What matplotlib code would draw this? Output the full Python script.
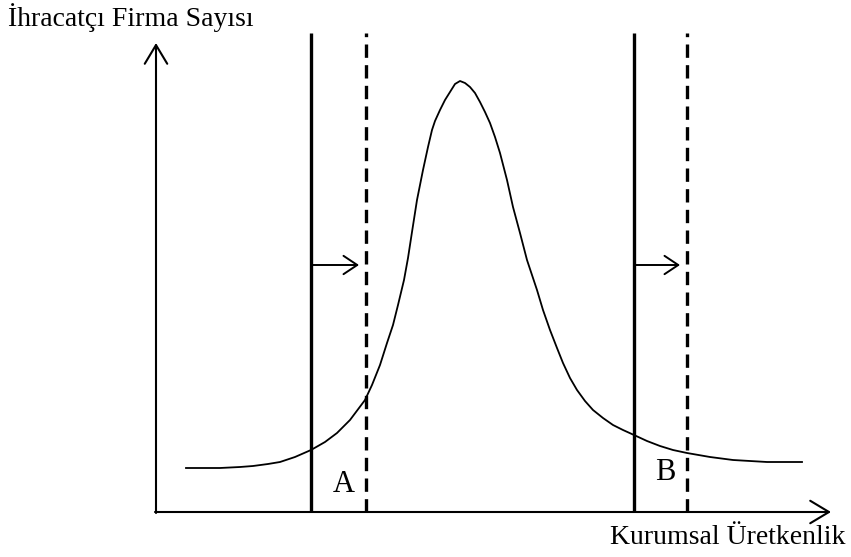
import matplotlib
matplotlib.use("Agg")
import matplotlib.pyplot as plt

plt.rcParams['font.family'] = ['Liberation Serif', 'DejaVu Serif']

# curve (pixel-like units, y grows downward)
curve_x = [186, 205, 220, 240, 253, 268, 280, 295, 311, 325, 337, 350, 365, 372,
           380, 387, 393, 398, 404, 408, 412, 417, 423, 428, 432, 435, 440, 445,
           450, 455, 460, 465, 470, 475, 480, 485, 490, 495, 500, 507, 513, 520,
           527, 537, 543, 550, 557, 563, 570, 577, 585, 593, 603, 613, 623, 634,
           647, 660, 673, 687, 710, 733, 750, 767, 785, 802]
curve_y = [468, 468, 468, 467, 466, 464, 462, 457, 450, 442, 433, 420, 400, 385,
           365, 343, 325, 305, 280, 258, 232, 200, 170, 147, 130, 121, 110, 100,
           92, 84, 81, 83, 87, 93, 102, 112, 123, 137, 153, 180, 207, 233,
           260, 290, 310, 330, 348, 363, 378, 390, 401, 410, 418, 425, 430, 435,
           441, 446, 450, 453, 457, 460, 461, 462, 462, 462]

solid_x = [311, 634]     # initial thresholds
dashed_x = [366, 687]    # shifted thresholds
shift_y = 265
labels = ['A', 'B']
label_y = [484, 473]

x_title = 'Kurumsal Üretkenlik'
y_title = 'İhracatçı Firma Sayısı'

ox, oy = 156, 512  # origin
x_end, y_end = 831, 43

fig = plt.figure(figsize=(8.51, 5.57), dpi=100)
ax = fig.add_axes([0, 0, 1, 1])
ax.set_xlim(0, 851)
ax.set_ylim(557, 0)
ax.axis('off')

# axes with arrows
axis_arrow = dict(arrowstyle='->,head_length=0.45,head_width=0.27', lw=1.5,
                  color='black', mutation_scale=30, shrinkA=0, shrinkB=0)
ax.annotate('', xy=(x_end, oy), xytext=(ox - 1, oy), arrowprops=axis_arrow)
ax.annotate('', xy=(ox, y_end), xytext=(ox, oy + 1), arrowprops=axis_arrow)

# vertical threshold lines
for sx, dx in zip(solid_x, dashed_x):
    ax.plot([sx, sx], [oy, 33], color='black', lw=2.4, solid_capstyle='butt')
    ax.plot([dx, dx], [oy, 33], color='black', lw=2.4, linestyle=(0, (4, 2.2)),
            dash_capstyle='butt')
    ax.annotate('', xy=(dx - 7, shift_y), xytext=(sx, shift_y),
                arrowprops=dict(arrowstyle='->,head_length=0.45,head_width=0.3',
                                lw=1.4, color='black', mutation_scale=22,
                                shrinkA=0, shrinkB=0))

ax.plot(curve_x, curve_y, color='black', lw=1.3, solid_joinstyle='round')

for sx, dx, lab, ly in zip(solid_x, dashed_x, labels, label_y):
    ax.text((sx + dx) / 2 + 5, ly, lab, fontsize=22, ha='center', va='center')

ax.text(8, 18, y_title, fontsize=20, ha='left', va='center')
ax.text(846, 538, x_title, fontsize=20, ha='right', va='center')

fig.savefig('out.png', dpi=100)
